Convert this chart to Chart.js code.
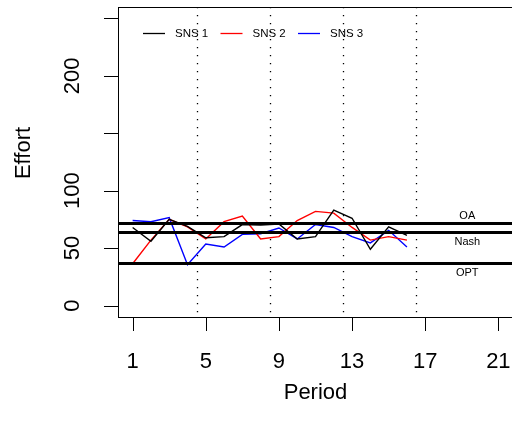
<!DOCTYPE html>
<html>
<head>
<meta charset="utf-8">
<script src="https://cdn.jsdelivr.net/npm/chart.js@4.4.1/dist/chart.umd.min.js"></script>
<style>
  html, body { margin: 0; padding: 0; overflow: hidden; background: #fff; }
  canvas { display: block; }
</style>
</head>
<body>
<canvas id="effortChart" width="520" height="428"></canvas>
<script>
const periods = [1, 2, 3, 4, 5, 6, 7, 8, 9, 10, 11, 12, 13, 14, 15, 16];
const sns1 = [68, 56, 75, 69, 59, 60, 70.5, 70, 71, 58, 60, 83, 76, 49, 68.5, 61];
const sns2 = [36.4, 57, 75, 68.5, 58, 73, 78, 58, 60, 74, 82, 80.5, 68, 57, 60, 57];
const sns3 = [74, 73, 76.5, 35.5, 53.5, 51, 62, 62.5, 67.5, 58, 70.5, 68, 60, 54.5, 65.5, 51];

const xTicks = [1, 5, 9, 13, 17, 21];
const yTicks = [0, 50, 100, 150, 200, 250];
// R drops the labels that would overlap
const yTickLabels = ['0', '50', '100', '', '200', ''];
const blockBreaks = [4.5, 8.5, 12.5, 16.5];
const refNames = ['OA', 'Nash', 'OPT'];
const refValues = [71.5, 63.5, 36.5];

const seriesNames = ['SNS 1', 'SNS 2', 'SNS 3'];
const seriesColors = ['#000000', '#ff0000', '#0000ff'];
const FONT = '"Liberation Sans", Arial, Helvetica, sans-serif';

const toPoints = vals => vals.map((v, i) => ({ x: periods[i], y: v }));

// R-style decorations: box, ticks, labels, abline's, legend
const rPlot = {
  id: 'rPlot',
  beforeDatasetsDraw(chart) {
    const { ctx, chartArea: a, scales: { x } } = chart;
    ctx.save();
    ctx.strokeStyle = '#000';
    ctx.lineWidth = 1.3;
    ctx.setLineDash([1.3, 6.7]);
    blockBreaks.forEach(b => {
      const px = Math.round(x.getPixelForValue(b)) + 0.5;
      ctx.beginPath();
      ctx.moveTo(px, a.top);
      ctx.lineTo(px, a.bottom);
      ctx.stroke();
    });
    ctx.restore();
  },
  afterDatasetsDraw(chart) {
    const { ctx, chartArea: a, scales: { x, y } } = chart;
    ctx.save();

    // reference lines
    ctx.strokeStyle = '#000';
    ctx.lineWidth = 3;
    refValues.forEach(v => {
      const py = y.getPixelForValue(v);
      ctx.beginPath();
      ctx.moveTo(a.left, py);
      ctx.lineTo(a.right, py);
      ctx.stroke();
    });

    ctx.fillStyle = '#000';
    ctx.font = '11px ' + FONT;
    ctx.textAlign = 'center';
    ctx.textBaseline = 'middle';
    const offs = [-7.5, 9.5, 9.5];
    refNames.forEach((n, i) => {
      ctx.fillText(n, x.getPixelForValue(19.3), y.getPixelForValue(refValues[i]) + offs[i]);
    });

    // box
    ctx.lineWidth = 1;
    ctx.strokeRect(Math.round(a.left) + 0.5, Math.round(a.top) + 0.5,
      Math.round(a.right - a.left), Math.round(a.bottom - a.top));

    // ticks
    ctx.font = '22px ' + FONT;
    ctx.beginPath();
    xTicks.forEach(t => {
      const px = Math.round(x.getPixelForValue(t)) + 0.5;
      ctx.moveTo(px, a.bottom);
      ctx.lineTo(px, a.bottom + 14);
    });
    yTicks.forEach(t => {
      const py = Math.round(y.getPixelForValue(t)) + 0.5;
      ctx.moveTo(a.left, py);
      ctx.lineTo(a.left - 14, py);
    });
    ctx.stroke();

    xTicks.forEach(t => {
      ctx.fillText(String(t), x.getPixelForValue(t), 362);
    });
    yTicks.forEach((t, i) => {
      if (!yTickLabels[i]) return;
      ctx.save();
      ctx.translate(73, y.getPixelForValue(t));
      ctx.rotate(-Math.PI / 2);
      ctx.fillText(yTickLabels[i], 0, 0);
      ctx.restore();
    });

    // axis titles
    ctx.fillText('Period', (a.left + a.right) / 2, 393);
    ctx.save();
    ctx.translate(24, 153);
    ctx.rotate(-Math.PI / 2);
    ctx.fillText('Effort', 0, 0);
    ctx.restore();

    // legend
    ctx.font = '11.5px ' + FONT;
    ctx.textAlign = 'left';
    ctx.lineWidth = 1.3;
    seriesNames.forEach((n, i) => {
      const lx = 143 + i * 77.5;
      ctx.strokeStyle = seriesColors[i];
      ctx.beginPath();
      ctx.moveTo(lx, 33.5);
      ctx.lineTo(lx + 22, 33.5);
      ctx.stroke();
      ctx.fillText(n, lx + 32, 34);
    });

    ctx.restore();
  }
};

new Chart(document.getElementById('effortChart'), {
  type: 'line',
  data: {
    datasets: [sns1, sns2, sns3].map((vals, i) => ({
      label: seriesNames[i],
      data: toPoints(vals),
      borderColor: seriesColors[i],
      borderWidth: 1.4,
      pointRadius: 0,
      tension: 0,
      fill: false
    }))
  },
  options: {
    responsive: false,
    animation: false,
    layout: { padding: { left: 118, top: 7, right: 7, bottom: 111 } },
    plugins: { legend: { display: false }, tooltip: { enabled: false } },
    scales: {
      x: { type: 'linear', min: 0.2, max: 21.8, display: false },
      y: { type: 'linear', min: -10, max: 260, display: false }
    }
  },
  plugins: [rPlot]
});
</script>
</body>
</html>
